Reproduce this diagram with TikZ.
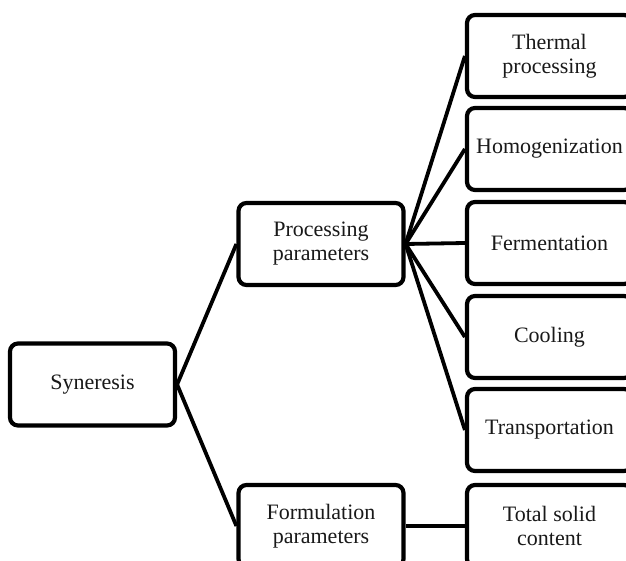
\documentclass[tikz,border=0pt]{standalone}
\usepackage{fontspec}
\setmainfont{Liberation Serif}
\begin{document}
\begin{tikzpicture}[x=1pt,y=-1pt,
  box/.style={draw=black, line width=4.2pt, rounded corners=8pt, fill=white,
    minimum width=165pt, minimum height=82pt, inner sep=2pt,
    align=center, font=\fontsize{22pt}{24pt}\selectfont, text=black!90},
  link/.style={draw=black, line width=3.8pt}]
\useasboundingbox (0,0) rectangle (626,561);
\clip (0,0) rectangle (626,561);
\fill[white] (0,0) rectangle (626,561);
\node[box] (syn) at (92.5,384.5) {Syneresis};
\node[box] (proc) at (321,244) {Processing\\parameters};
\node[box] (form) at (321,526) {Formulation\\parameters};
\node[box] (th) at (549.5,56) {Thermal\\processing};
\node[box] (hom) at (549.5,149) {Homogenization};
\node[box] (fer) at (549.5,243) {Fermentation};
\node[box] (cool) at (549.5,337) {Cooling};
\node[box] (tra) at (549.5,430) {Transportation};
\node[box] (tsc) at (549.5,526) {Total solid\\content};
\draw[link] (syn.east) -- (proc.west);
\draw[link] (syn.east) -- (form.west);
\foreach \t in {th,hom,fer,cool,tra}
  \draw[link] (proc.east) -- (\t.west);
\draw[link] (form.east) -- (tsc.west);
\end{tikzpicture}
\end{document}
